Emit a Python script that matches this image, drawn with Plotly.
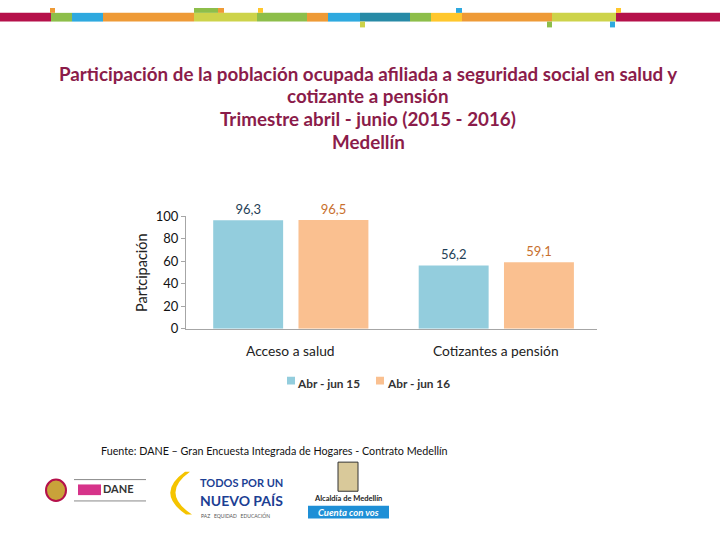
import plotly.graph_objects as go

categories = ["Acceso a salud", "Cotizantes a pensión"]
series_names = ["Abr - jun 15", "Abr - jun 16"]
values_2015 = [96.3, 56.2]
values_2016 = [96.5, 59.1]
y_ticks = [0, 20, 40, 60, 80, 100]

bar_colors = ["#93CDDD", "#FAC090"]
label_colors = ["#1F3F57", "#C8702E"]

W, H = 720, 540
FONT = "Lato"


def px(x):
    return x / W


def py(y):
    return 1 - y / H


def fmt(v):
    return f"{v:.1f}".replace(".", ",")


def note(x, y, text, size, color, xanchor="center", **kw):
    fig.add_annotation(x=px(x), y=py(y), xref="paper", yref="paper", text=text, showarrow=False,
                       xanchor=xanchor, yanchor="middle", borderpad=0,
                       font=dict(family=FONT, size=size, color=color), **kw)


fig = go.Figure()
for name, vals, col, lcol in zip(series_names, [values_2015, values_2016], bar_colors, label_colors):
    fig.add_trace(go.Bar(
        x=categories, y=vals, name=name,
        marker=dict(color=col, line=dict(width=0)),
        text=[fmt(v) for v in vals], textposition="outside",
        textfont=dict(family=FONT, size=13, color=lcol),
        cliponaxis=False,
    ))

fig.update_layout(
    width=W, height=H,
    margin=dict(l=0, r=0, t=0, b=0),
    paper_bgcolor="white", plot_bgcolor="white",
    barmode="group", bargap=0.17, bargroupgap=0.18,
    showlegend=False,
    font=dict(family=FONT, color="#222222"),
    xaxis=dict(domain=[px(186), px(597)], range=[-0.51, 1.49],
               showline=True, linecolor="#A6A6A6", linewidth=1,
               ticks="", showgrid=False, showticklabels=False, fixedrange=True),
    yaxis=dict(domain=[py(330.5), py(214.5)], range=[0, 100],
               tickvals=y_ticks, showline=True, linecolor="#A6A6A6", linewidth=1,
               ticks="outside", ticklen=4, tickcolor="#A6A6A6",
               showgrid=False, zeroline=False,
               tickfont=dict(family=FONT, size=13, color="#111111"), fixedrange=True),
)

# category labels
for c in categories:
    fig.add_annotation(x=c, y=py(353), xref="x", yref="paper", text=c, showarrow=False,
                       xanchor="center", yanchor="middle",
                       font=dict(family=FONT, size=13.8, color="#222222"))

# y-axis title
note(142, 273, "Partcipación", 14.5, "#222222", textangle=-90)

# title
title_lines = ["Participación de la población ocupada afiliada a seguridad social en salud y",
               "cotizante a pensión", "Trimestre abril - junio (2015 - 2016)", "Medellín"]
for i, t in enumerate(title_lines):
    note(368, 67 + i * 23.5, f"<b>{t}</b>", 18.8, "#8B1C4A")

# legend (manual)
leg = [(287, 296, series_names[0], bar_colors[0]), (376, 386, series_names[1], bar_colors[1])]
for sx, tx, name, col in leg:
    fig.add_shape(type="rect", xref="paper", yref="paper", x0=px(sx), x1=px(sx + 8), y0=py(388), y1=py(380),
                  fillcolor=col, line=dict(width=0))
    note(tx, 387, f"<b>{name}</b>", 11.8, "#333333", xanchor="left")

# source
note(100, 456, "Fuente: DANE – Gran Encuesta Integrada de Hogares - Contrato Medellín", 10.75, "#111111",
     xanchor="left")

# header strip
segs = [(0, 51, "#B5104A"), (51, 72, "#8DBE4A"), (72, 103, "#2EA9DF"), (103, 194, "#EE9A36"),
        (194, 257, "#CDD34A"), (257, 307, "#8DBE4A"), (307, 328, "#EE9A36"), (328, 360, "#2EA9DF"),
        (360, 410, "#278AA6"), (410, 431, "#8DBE4A"), (431, 462, "#FFC72C"), (462, 552, "#EE9A36"),
        (552, 616, "#CDD34A"), (616, 720, "#B5104A")]
for x0, x1, col in segs:
    fig.add_shape(type="rect", xref="paper", yref="paper", x0=px(x0), x1=px(x1), y0=py(14), y1=py(5),
                  fillcolor=col, line=dict(width=0), layer="above")
ticks = [(50, 55, 0, 5, "#EE9A36"), (194, 218, 0, 5, "#8DBE4A"), (218, 224, 0, 5, "#EE9A36"),
         (258, 263, 0, 5, "#FFC72C"), (456, 462, 0, 5, "#2EA9DF"), (616, 621, 0, 5, "#FFC72C"),
         (360, 365, 14, 20, "#CDD34A"), (547, 552, 14, 20, "#8DBE4A"), (610, 615, 14, 20, "#2EA9DF")]
for x0, x1, y0, y1, col in ticks:
    fig.add_shape(type="rect", xref="paper", yref="paper", x0=px(x0), x1=px(x1), y0=py(y1), y1=py(y0),
                  fillcolor=col, line=dict(width=0))

# logos (simplified)
fig.add_shape(type="circle", xref="paper", yref="paper", x0=px(46), x1=px(66), y0=py(508), y1=py(486),
              fillcolor="#C9A23A", line=dict(color="#B5104A", width=2))
fig.add_shape(type="line", xref="paper", yref="paper", x0=px(74), x1=px(146), y0=py(486), y1=py(486),
              line=dict(color="#888888", width=1))
fig.add_shape(type="line", xref="paper", yref="paper", x0=px(74), x1=px(146), y0=py(508), y1=py(508),
              line=dict(color="#888888", width=1))
fig.add_shape(type="rect", xref="paper", yref="paper", x0=px(78), x1=px(101), y0=py(502), y1=py(491),
              fillcolor="#D6338A", line=dict(width=0))
note(102, 495, "<b>DANE</b>", 11, "#333333", xanchor="left")
fig.add_shape(type="path", xref="paper", yref="paper",
              path=f"M {px(190)},{py(478)} Q {px(160)},{py(500)} {px(192)},{py(522)} L {px(186)},{py(522)} Q {px(155)},{py(500)} {px(185)},{py(478)} Z",
              fillcolor="#F5C400", line=dict(width=0))
note(199, 489, "<b>TODOS POR UN</b>", 11, "#1C3F94", xanchor="left")
note(199, 508, "<b>NUEVO PAÍS</b>", 14, "#1C3F94", xanchor="left")
note(200, 523, "PAZ   EQUIDAD   EDUCACIÓN", 5, "#555555", xanchor="left")
fig.add_shape(type="rect", xref="paper", yref="paper", x0=px(338), x1=px(358), y0=py(498), y1=py(468),
              fillcolor="#D9C99A", line=dict(color="#333333", width=1))
note(348, 505, "<b>Alcaldía de Medellín</b>", 7.5, "#222222")
fig.add_shape(type="rect", xref="paper", yref="paper", x0=px(308), x1=px(389), y0=py(526), y1=py(513),
              fillcolor="#1E8FD6", line=dict(width=0))
note(348.5, 520, "<b><i>Cuenta con vos</i></b>", 9.5, "white")

fig.write_html("out.html", config={"displayModeBar": False},
               post_script="document.body.style.margin='0';")
